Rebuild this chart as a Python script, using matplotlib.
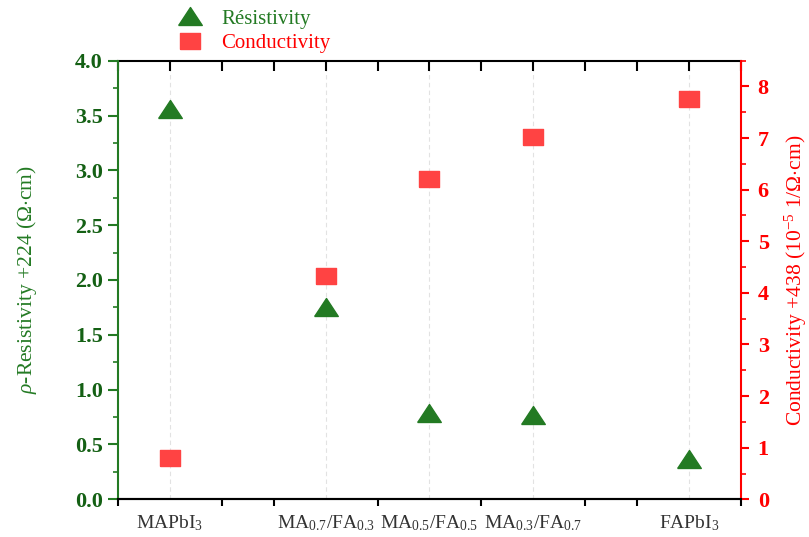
import matplotlib.pyplot as plt
from matplotlib.lines import Line2D
from matplotlib.ticker import MultipleLocator, FixedLocator
import numpy as np

plt.rcParams['font.family'] = ['Liberation Serif', 'DejaVu Serif']
plt.rcParams['mathtext.fontset'] = 'custom'
plt.rcParams['mathtext.rm'] = 'Liberation Serif'
plt.rcParams['mathtext.it'] = 'Liberation Serif:italic'
plt.rcParams['mathtext.bf'] = 'Liberation Serif:bold'

samples = ['MAPbI$_\\mathrm{3}$', 'MA$_\\mathrm{0.7}$/FA$_\\mathrm{0.3}$',
           'MA$_\\mathrm{0.5}$/FA$_\\mathrm{0.5}$', 'MA$_\\mathrm{0.3}$/FA$_\\mathrm{0.7}$',
           'FAPbI$_\\mathrm{3}$']
xpos = [0, 3, 5, 7, 10]
resistivity = [3.56, 1.75, 0.79, 0.77, 0.37]
conductivity = [0.80, 4.33, 6.21, 7.03, 7.75]

green = '#237a23'
green_dark = '#146014'
red_mark = '#ff4343'
red = '#ff0000'

# flattened triangle / wide square like the Origin symbols
tri = [(-1, -0.76), (1, -0.76), (0, 0.76), (-1, -0.76)]
sq = [(-1, -0.8), (1, -0.8), (1, 0.8), (-1, 0.8), (-1, -0.8)]

fig = plt.figure(figsize=(8.09, 5.37), dpi=100)
ax = fig.add_axes([0.1459, 0.0702, 0.77, 0.8168])
ax2 = ax.twinx()

ax.set_xlim(-1, 11)
ax.set_ylim(0, 4.0)
ax2.set_ylim(0, 8.5)

for x in xpos:
    ax.axvline(x, color='#e2e2e2', lw=0.8, ls=(0, (4, 3)), zorder=0)

ax.plot(xpos, resistivity, ls='none', marker=tri, ms=17, color=green, mec=green, zorder=3)
ax2.plot(xpos, conductivity, ls='none', marker=sq, ms=14, color=red_mark, mec=red_mark, zorder=3)

# x axis: labels at sample positions, small ticks between them
ax.set_xticks(xpos)
ax.set_xticklabels(samples, fontsize=14, color='#333333')
ax.tick_params(axis='x', which='major', length=0, pad=10)
ax.xaxis.set_minor_locator(FixedLocator([x for x in range(-1, 12) if x not in xpos]))
ax.tick_params(axis='x', which='minor', direction='out', length=5, width=1.5, color='black')

top = ax.secondary_xaxis('top')
top.set_xticks(range(-1, 12))
top.tick_params(axis='x', direction='in', length=7, width=1.5, labeltop=False, color='black')
top.spines['top'].set_linewidth(1.5)

# left axis
ax.yaxis.set_minor_locator(MultipleLocator(0.25))
ax.tick_params(axis='y', which='major', length=7, width=1.5, color=green, labelcolor=green_dark, pad=4)
ax.tick_params(axis='y', which='minor', length=3.5, width=1.2, color=green)
ax.set_yticks(np.arange(0, 4.01, 0.5))
ax.set_yticklabels(['%.1f' % v for v in np.arange(0, 4.01, 0.5)], fontsize=16, fontweight='bold')
ax.set_ylabel('$\\rho$-Resistivity +224 ($\\Omega$$\\cdot$cm)', color=green, fontsize=15.5, labelpad=26)

# right axis
ax2.yaxis.set_major_locator(MultipleLocator(1))
ax2.yaxis.set_minor_locator(MultipleLocator(0.5))
ax2.tick_params(axis='y', which='major', length=6, width=1.5, color=red, labelcolor=red, pad=6)
ax2.tick_params(axis='y', which='minor', length=3.5, width=1.2, color=red)
for lbl in ax2.get_yticklabels():
    lbl.set_fontweight('bold')
    lbl.set_fontsize(16)
ax2.set_ylabel('Conductivity +438 (10$^{-5}$ 1/$\\Omega$$\\cdot$cm)', color=red, fontsize=15.5, labelpad=10)

for a in (ax, ax2):
    a.spines['bottom'].set_linewidth(1.5)
    a.spines['top'].set_visible(False)
ax2.spines['left'].set_color(green)
ax2.spines['left'].set_linewidth(1.5)
ax2.spines['right'].set_color(red)
ax2.spines['right'].set_linewidth(1.5)
ax.spines['left'].set_visible(False)
ax.spines['right'].set_visible(False)

handles = [Line2D([], [], ls='none', marker=tri, ms=17, color=green),
           Line2D([], [], ls='none', marker=sq, ms=14, color=red_mark)]
fig.legend(handles, ['Résistivity', 'Conductivity'], loc='upper left',
           bbox_to_anchor=(0.186, 1.018), frameon=False, fontsize=15,
           labelcolor=[green, red], handletextpad=0.5, labelspacing=0.25)

fig.savefig('out.png', dpi=100)
